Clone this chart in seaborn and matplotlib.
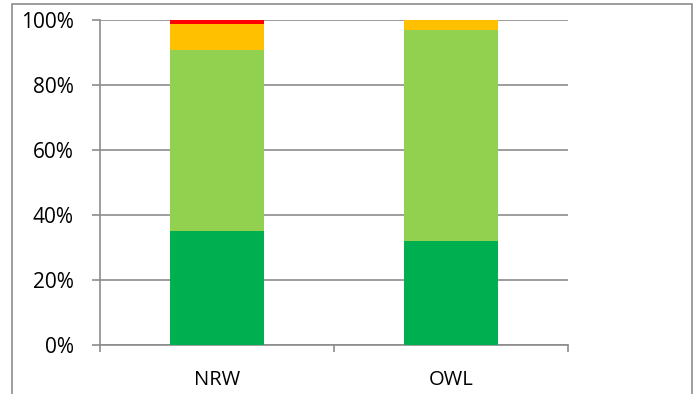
import matplotlib
matplotlib.use("Agg")
import matplotlib.pyplot as plt
import seaborn as sns
import pandas as pd
import numpy as np
from matplotlib.patches import Rectangle
from matplotlib.ticker import FuncFormatter, FixedLocator

regions = ["NRW", "OWL"]
dark_green = [35.0, 32.0]
light_green = [55.8, 64.8]
orange = [8.0, 3.2]
red = [1.2, 0.0]
y_ticks = [0, 20, 40, 60, 80, 100]

colors = ["#00B050", "#92D050", "#FFC000", "#FF0000"]
series = [dark_green, light_green, orange, red]

sns.set_theme(style="white")
plt.rcParams['font.family'] = ['Open Sans', 'DejaVu Sans']

fig = plt.figure(figsize=(6.94, 3.94), dpi=100)
W, H = 694, 394
ax = fig.add_axes([100 / W, (H - 345) / H, (568 - 100) / W, (345 - 20) / H])

cum = np.cumsum(np.array(series), axis=0)
for i in range(len(series) - 1, -1, -1):
    df = pd.DataFrame({"region": regions, "value": cum[i]})
    sns.barplot(data=df, x="region", y="value", color=colors[i], width=0.4,
                saturation=1, ax=ax, zorder=3, linewidth=0)

ax.set_ylim(0, 100)
ax.set_xlim(-0.5, 1.5)
ax.set_yticks(y_ticks)
ax.yaxis.set_major_formatter(FuncFormatter(lambda v, p: f"{int(v)}%"))
ax.grid(axis="y", color="#8c8c8c", linewidth=1.2, zorder=0)
ax.set_axisbelow(True)
ax.set_xlabel("")
ax.set_ylabel("")

for s in ["top", "right"]:
    ax.spines[s].set_visible(False)
for s in ["left", "bottom"]:
    ax.spines[s].set_color("#8c8c8c")
    ax.spines[s].set_linewidth(1.2)

ax.tick_params(axis="y", which="major", left=True, length=6, width=1.2,
               color="#8c8c8c", labelsize=15, pad=13, labelcolor="black")
ax.tick_params(axis="x", which="major", bottom=False, length=0, labelsize=14.5,
               pad=18, labelcolor="black")
ax.xaxis.set_minor_locator(FixedLocator([-0.5, 0.5, 1.5]))
ax.tick_params(axis="x", which="minor", bottom=True, length=5, width=1.2,
               color="#8c8c8c")

border = Rectangle((12 / W, -0.05), (692 - 12) / W, (H - 4) / H + 0.05,
                   transform=fig.transFigure, fill=False, edgecolor="#8c8c8c",
                   linewidth=1.2, clip_on=False)
fig.patches.append(border)

fig.savefig("out.png", dpi=100)
